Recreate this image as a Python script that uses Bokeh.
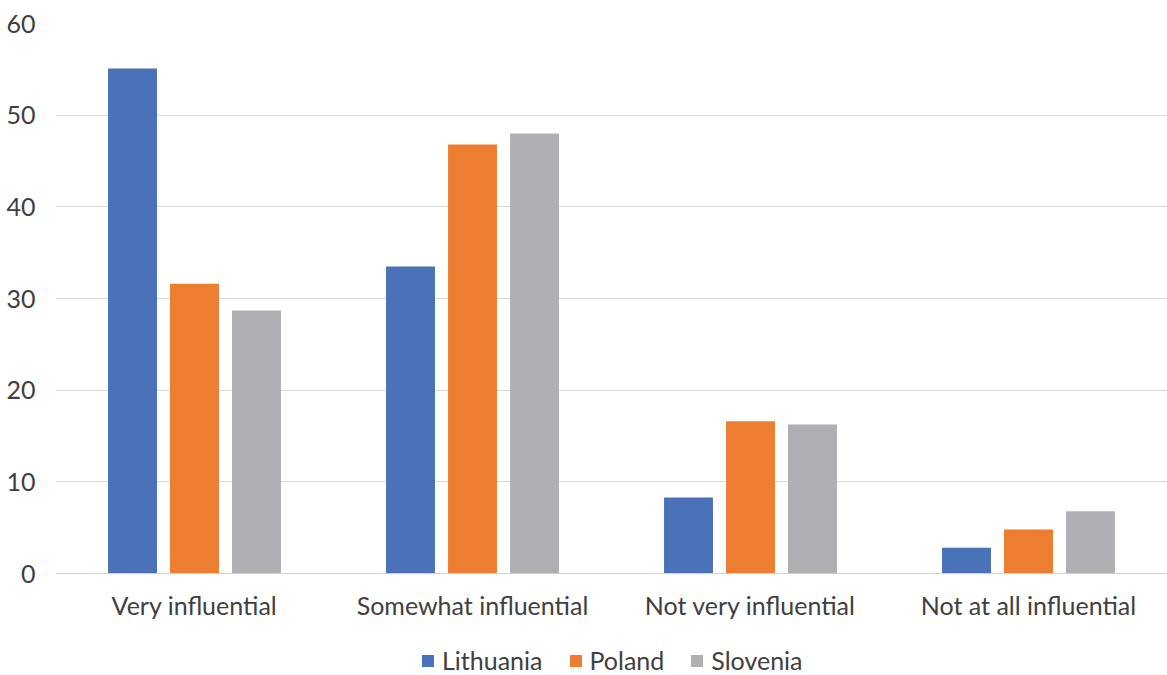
from bokeh.plotting import figure
from bokeh.models import ColumnDataSource, FactorRange, Range1d, Legend, LegendItem, FixedTicker
from bokeh.layouts import column
from bokeh.transform import dodge
from bokeh.embed import file_html
from bokeh.resources import INLINE

categories = ["Very influential", "Somewhat influential", "Not very influential", "Not at all influential"]
lithuania = [55.1, 33.5, 8.3, 2.8]
poland = [31.6, 46.8, 16.6, 4.8]
slovenia = [28.7, 48.0, 16.25, 6.8]
series_names = ["Lithuania", "Poland", "Slovenia"]
colors = ["#4a72b9", "#ED7D31", "#AFB0B3"]
y_ticks = [0, 10, 20, 30, 40, 50, 60]

src = ColumnDataSource(dict(cat=categories, lithuania=lithuania, poland=poland, slovenia=slovenia))

p = figure(width=1167, height=625, x_range=FactorRange(*categories, range_padding=0),
           y_range=Range1d(0, 60), output_backend="svg", toolbar_location=None,
           min_border_left=55, min_border_right=0, min_border_top=23, min_border_bottom=52)
p.outline_line_color = None
p.background_fill_color = "white"
p.border_fill_color = "white"

offs = [-0.223, 0.0, 0.223]
for col, off, c in zip(["lithuania", "poland", "slovenia"], offs, colors):
    p.vbar(x=dodge("cat", off, range=p.x_range), top=col, width=0.176, source=src,
           fill_color=c, line_color=None)

p.yaxis.ticker = FixedTicker(ticks=y_ticks)
p.yaxis.axis_line_color = None
p.yaxis.major_tick_line_color = None
p.yaxis.minor_tick_line_color = None
p.yaxis.major_label_text_font = "Lato"
p.yaxis.major_label_text_font_size = "25px"
p.yaxis.major_label_text_color = "#404040"
p.yaxis.major_label_standoff = 14

p.xaxis.axis_line_color = "#d0d0d0"
p.xaxis.major_tick_line_color = None
p.xaxis.minor_tick_line_color = None
p.xaxis.major_label_text_font = "Lato"
p.xaxis.major_label_text_font_size = "25px"
p.xaxis.major_label_text_color = "#404040"
p.xaxis.major_label_standoff = 10

p.xgrid.grid_line_color = None
p.ygrid.grid_line_color = "#d9d9d9"
p.ygrid.grid_line_width = 1

# legend strip below the chart
lg = figure(width=1167, height=50, x_range=Range1d(0, 1), y_range=Range1d(0, 1),
            output_backend="svg", toolbar_location=None,
            min_border_left=0, min_border_right=0, min_border_top=0, min_border_bottom=0)
lg.axis.visible = False
lg.grid.visible = False
lg.outline_line_color = None
items = []
for n, c in zip(series_names, colors):
    dummy = ColumnDataSource(dict(x=[10], top=[10]))
    r = lg.vbar(x="x", top="top", width=0.1, source=dummy, fill_color=c, line_color=None)
    items.append(LegendItem(label=n, renderers=[r]))

legend = Legend(items=items, orientation="horizontal", location=(365, 0))
legend.label_text_font = "Lato"
legend.label_text_font_size = "25px"
legend.label_text_color = "#404040"
legend.glyph_width = 15
legend.glyph_height = 15
legend.label_standoff = 7
legend.spacing = 25
legend.border_line_color = None
legend.background_fill_alpha = 0
legend.padding = 0
legend.margin = 0
lg.add_layout(legend)

layout = column(p, lg, spacing=0)
open("out.html", "w").write(file_html(layout, INLINE))
